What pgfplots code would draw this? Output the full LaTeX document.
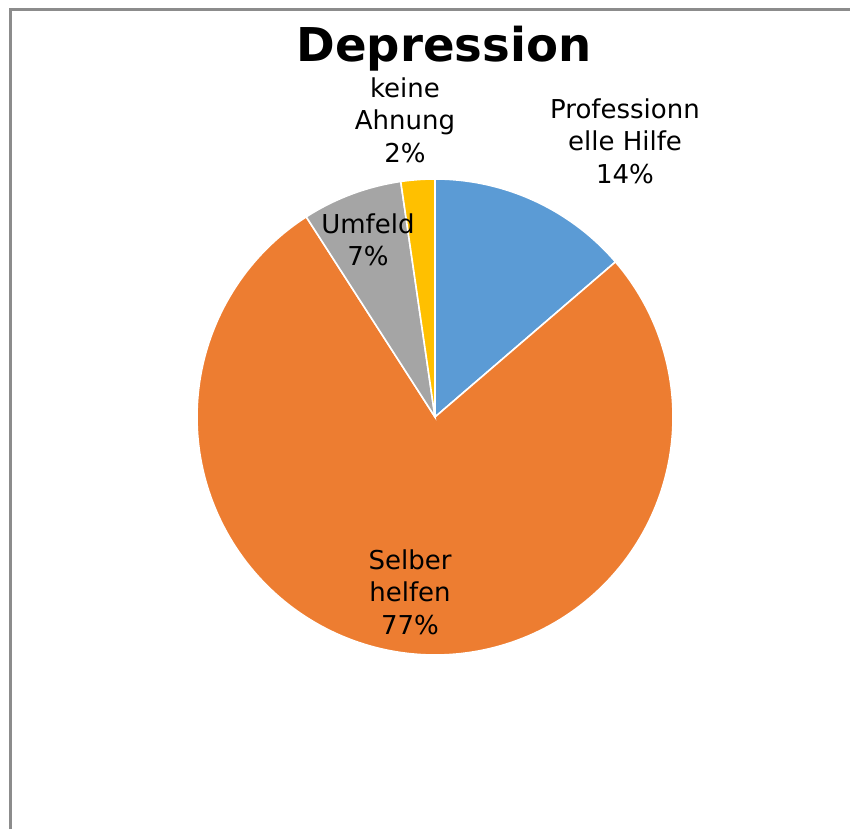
\documentclass[border=0pt]{standalone}
\usepackage{pgfplots}
\pgfplotsset{compat=1.18}
\usepackage{fontspec}
\setmainfont{DejaVu Sans}
\definecolor{cBlue}{HTML}{5B9BD5}
\definecolor{cOrange}{HTML}{ED7D31}
\definecolor{cGrey}{HTML}{A5A5A5}
\definecolor{cYellow}{HTML}{FFC000}
\definecolor{cFrame}{HTML}{8C8C8C}
% slice values (percent)
\def\vProf{13.7}
\def\vSelb{77.2}
\def\vUmf{6.8}
\def\vKein{2.3}
\pgfmathsetmacro\aA{90}
\pgfmathsetmacro\aB{\aA-3.6*\vProf}
\pgfmathsetmacro\aC{\aB-3.6*\vSelb}
\pgfmathsetmacro\aD{\aC-3.6*\vUmf}
\pgfmathsetmacro\aE{\aD-3.6*\vKein}
\def\cx{435}
\def\cy{412}
\def\rr{238}
\begin{document}
\begin{tikzpicture}
\begin{axis}[
  scale only axis, width=425pt, height=414.5pt,
  xmin=0, xmax=850, ymin=0, ymax=829,
  hide axis, clip=true,
]
\addplot[draw=cFrame, line width=1.5pt] coordinates {(10,0) (10,819) (850,819)};
\addplot[fill=cBlue, draw=white, line width=0.8pt, domain=\aA:\aB, samples=60] ({\cx+\rr*cos(x)},{\cy+\rr*sin(x)}) -- (\cx,\cy) -- cycle;
\addplot[fill=cOrange, draw=white, line width=0.8pt, domain=\aB:\aC, samples=200] ({\cx+\rr*cos(x)},{\cy+\rr*sin(x)}) -- (\cx,\cy) -- cycle;
\addplot[fill=cGrey, draw=white, line width=0.8pt, domain=\aC:\aD, samples=40] ({\cx+\rr*cos(x)},{\cy+\rr*sin(x)}) -- (\cx,\cy) -- cycle;
\addplot[fill=cYellow, draw=white, line width=0.8pt, domain=\aD:\aE, samples=20] ({\cx+\rr*cos(x)},{\cy+\rr*sin(x)}) -- (\cx,\cy) -- cycle;
\node[font=\fontsize{23.3}{28}\selectfont\bfseries] at (axis cs:444,780) {Depression};
\node[align=center, font=\fontsize{13}{16.3}\selectfont] at (axis cs:625,688) {Professionn\\elle Hilfe\\14\%};
\node[align=center, font=\fontsize{13}{16.3}\selectfont] at (axis cs:405,709) {keine\\Ahnung\\2\%};
\node[align=center, font=\fontsize{13}{16.3}\selectfont] at (axis cs:368,589) {Umfeld\\7\%};
\node[align=center, font=\fontsize{13}{16.3}\selectfont] at (axis cs:410,237) {Selber\\helfen\\77\%};
\end{axis}
\pgfresetboundingbox
\useasboundingbox (current axis.south west) rectangle (current axis.north east);
\end{tikzpicture}
\end{document}
